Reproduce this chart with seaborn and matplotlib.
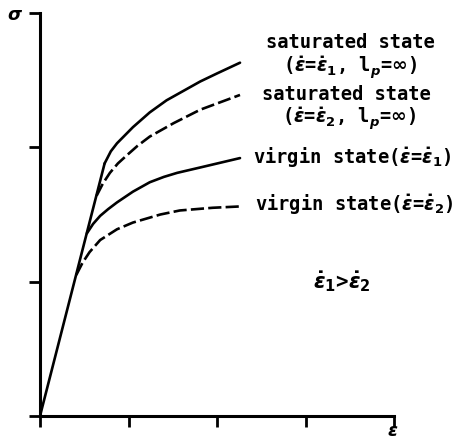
import matplotlib
matplotlib.use("Agg")
import matplotlib.pyplot as plt
import seaborn as sns
import pandas as pd

sns.set_theme(style="white")
plt.rcParams["font.family"] = ["DejaVu Sans Mono", "DejaVu Sans"]
plt.rcParams["mathtext.fontset"] = "custom"
plt.rcParams["mathtext.rm"] = "DejaVu Sans:bold"
plt.rcParams["mathtext.it"] = "DejaVu Sans:italic:bold"
plt.rcParams["mathtext.bf"] = "DejaVu Sans:bold"
plt.rcParams["text.color"] = "black"

# elastic branch shared by all curves (strain, stress)
elastic_x = [0.0, 0.73]
elastic_y = [0.0, 1.88]

# saturated state, strain rate 1 (solid)
sat1_x = [0.73, 0.80, 0.87, 0.96, 1.05, 1.24, 1.43, 1.62, 1.81, 2.00, 2.26]
sat1_y = [1.88, 1.97, 2.03, 2.09, 2.15, 2.26, 2.35, 2.42, 2.49, 2.55, 2.63]

# saturated state, strain rate 2 (dashed)
sat2_x = [0.64, 0.71, 0.79, 0.88, 0.98, 1.10, 1.24, 1.51, 1.81, 2.26]
sat2_y = [1.64, 1.73, 1.81, 1.88, 1.94, 2.01, 2.08, 2.18, 2.28, 2.39]

# virgin state, strain rate 1 (solid)
vir1_x = [0.53, 0.60, 0.68, 0.77, 0.87, 0.96, 1.05, 1.24, 1.40, 1.55, 1.81, 2.26]
vir1_y = [1.36, 1.43, 1.49, 1.54, 1.59, 1.63, 1.67, 1.74, 1.78, 1.81, 1.85, 1.92]

# virgin state, strain rate 2 (dashed)
vir2_x = [0.41, 0.48, 0.56, 0.68, 0.87, 1.05, 1.36, 1.58, 1.95, 2.26]
vir2_y = [1.05, 1.14, 1.22, 1.31, 1.39, 1.44, 1.50, 1.53, 1.55, 1.56]

x_ticks = [0, 1, 2, 3, 4]
y_ticks = [0, 1, 2, 3]

W, H = 466, 445
fig = plt.figure(figsize=(W / 100, H / 100), dpi=100)
ax = fig.add_axes([40 / W, 1 - 416 / H, (394 - 40) / W, (416 - 13) / H])

curves = [
    (elastic_x, elastic_y, None),
    (sat1_x, sat1_y, None),
    (sat2_x, sat2_y, (5, 1.6)),
    (vir1_x, vir1_y, None),
    (vir2_x, vir2_y, (5, 1.6)),
]
for xs, ys, dash in curves:
    df = pd.DataFrame({"strain": xs, "stress": ys})
    sns.lineplot(data=df, x="strain", y="stress", ax=ax, color="black",
                 linewidth=1.9, sort=False, estimator=None)
    line = ax.lines[-1]
    line.set_solid_capstyle("round")
    line.set_solid_joinstyle("round")
    if dash is not None:
        line.set_dashes(dash)

ax.set_xlim(0, 4)
ax.set_ylim(0, 3)
ax.set_xticks(x_ticks)
ax.set_yticks(y_ticks)
ax.set_xticklabels([])
ax.set_yticklabels([])
ax.set_xlabel("")
ax.set_ylabel("")
for side in ("top", "right"):
    ax.spines[side].set_visible(False)
for side in ("left", "bottom"):
    ax.spines[side].set_linewidth(2.2)
    ax.spines[side].set_color("black")
ax.tick_params(axis="both", direction="out", length=8, width=2.0,
               colors="black", left=True, bottom=True)


def fx(px):
    return px / W


def fy(py):
    return 1 - py / H


txt = dict(fontsize=13.5, fontweight="bold", color="black", va="center")
fig.text(fx(350), fy(42), "saturated state", ha="center", **txt)
fig.text(fx(350), fy(68), r"($\dot{\epsilon}$=$\dot{\epsilon}_1$, l$_p$=$\infty$)",
         ha="center", **txt)
fig.text(fx(346), fy(95), "saturated state", ha="center", **txt)
fig.text(fx(349), fy(119), r"($\dot{\epsilon}$=$\dot{\epsilon}_2$, l$_p$=$\infty$)",
         ha="center", **txt)
fig.text(fx(253), fy(157), r"virgin state($\dot{\epsilon}$=$\dot{\epsilon}_1$)",
         ha="left", **txt)
fig.text(fx(255), fy(204), r"virgin state($\dot{\epsilon}$=$\dot{\epsilon}_2$)",
         ha="left", **txt)
fig.text(fx(342), fy(282), r"$\dot{\epsilon}_1$>$\dot{\epsilon}_2$",
         ha="center", fontsize=15, fontweight="bold", va="center", color="black")

fig.text(fx(15), fy(15), r"$\sigma$", ha="center", va="center", fontsize=13,
         fontweight="bold", color="black")
fig.text(fx(393), fy(431), r"$\epsilon$", ha="center", va="center", fontsize=13,
         fontweight="bold", color="black")

fig.savefig("out.png", dpi=100, facecolor="white")
